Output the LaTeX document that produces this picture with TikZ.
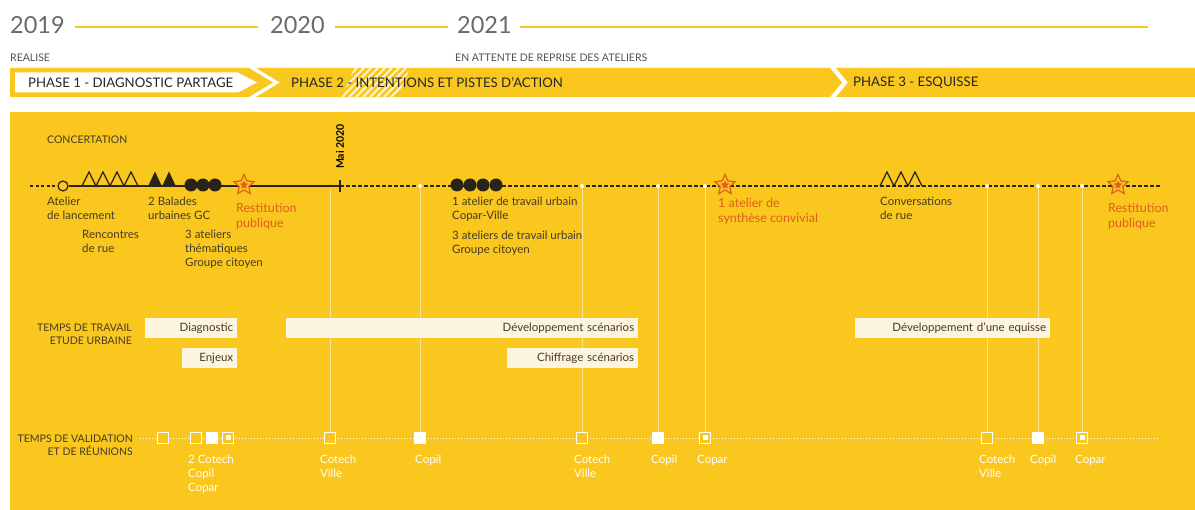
\documentclass[tikz,border=0pt]{standalone}
\usepackage{fontspec}
\setmainfont{Lato}
\usetikzlibrary{shapes.geometric}
\definecolor{gold}{RGB}{250,199,31}
\definecolor{cream}{RGB}{253,245,222}
\definecolor{rust}{RGB}{226,92,30}
\definecolor{ink}{RGB}{70,58,38}
\definecolor{greytxt}{RGB}{80,80,80}

\begin{document}
\begin{tikzpicture}[x=1pt, y=-1pt,
    every node/.style={font=\fontsize{11.5}{14}\selectfont, text=ink, inner sep=0pt},
    year/.style={font=\fontsize{23.5}{26}\selectfont, text=greytxt!85, anchor=west},
    yearline/.style={gold, line width=2.5pt},
    caption/.style={font=\fontsize{10.5}{12}\selectfont, text=greytxt, anchor=west},
    rowtitle/.style={font=\fontsize{10.5}{13}\selectfont, text=ink, align=right, anchor=east},
    phase/.style={font=\fontsize{13.2}{15}\selectfont, text=black!85, anchor=west},
    event/.style={align=left, anchor=north west},
    highlight/.style={event, text=rust, font=\fontsize{12.5}{15}\selectfont},
    bar/.style={fill=cream, minimum height=20pt, anchor=west, align=right, inner xsep=4pt},
    meeting/.style={event, text=white},
    guide/.style={white, opacity=0.5, line width=0.8pt},
    vopen/.style={draw=white, fill=gold, line width=1.2pt, minimum size=11pt},
    vfull/.style={fill=white, minimum size=12pt},
    vdot/.style={fill=white, minimum size=5pt},
    milestone/.style={star, star points=5, star point ratio=2.1, draw=rust, fill=gold, line width=1.2pt, minimum size=21pt},
    core/.style={star, star points=5, star point ratio=2.1, fill=rust, minimum size=9pt},
    plein/.style={circle, fill=ink!60!black, minimum size=13pt},
    tick/.style={ink!60!black, line width=1.3pt}
]
\useasboundingbox (0,0) rectangle (1195,510);

% annees
\node[year] (y2019) at (10,25) {2019};
\node[year] (y2020) at (270,25) {2020};
\node[year] (y2021) at (457,25) {2021};
\coordinate (yend) at (1148,27);
\draw[yearline] ([xshift=10pt,yshift=-2pt]y2019.east) -- ([xshift=-12pt,yshift=-2pt]y2020.west);
\draw[yearline] ([xshift=10pt,yshift=-2pt]y2020.east) -- ([xshift=-9pt,yshift=-2pt]y2021.west);
\draw[yearline] ([xshift=8pt,yshift=-2pt]y2021.east) -- (yend);

\node[caption] (realise) at (10,58) {REALISE};
\node[caption] (attente) at (455,58) {EN ATTENTE DE REPRISE DES ATELIERS};

% phases
\fill[gold] (10,68) -- (249,68) -- (273,82.5) -- (249,97) -- (10,97) -- cycle;
\fill[white] (15,72.5) -- (238,72.5) -- (257,82.5) -- (238,92.5) -- (15,92.5) -- cycle;
\fill[gold] (256,68) -- (830,68) -- (842,82.5) -- (830,97) -- (256,97) -- (280,82.5) -- cycle;
\fill[gold] (836,68) -- (1195,68) -- (1195,97) -- (836,97) -- (848,82.5) -- cycle;
\begin{scope}
  \clip (354,68) -- (410,68) -- (398,97) -- (342,97) -- cycle;
  \foreach \i in {0,...,13}
    \draw[white, opacity=0.8, line width=2pt] (300+\i*7,97) -- ++(29,-29);
\end{scope}
\node[phase] (ph1) at (28,83) {PHASE 1 - DIAGNOSTIC PARTAGE};
\node[phase] (ph2) at (291,83) {PHASE 2 - INTENTIONS ET PISTES D’ACTION};
\node[phase] (ph3) at (853,83) {PHASE 3 - ESQUISSE};

% fond
\fill[gold] (10,112) rectangle (1195,510);

% lignes verticales
\foreach \x [count=\i] in {420,582,658,705,987,1038,1082}
  \coordinate (t\i) at (\x,186);
\coordinate (t0) at (330,190);
\node[vopen] (q1) at (163,438) {};
\node[vopen] (q2) at (196,438) {};
\node[vfull] (q3) at (212,438) {};
\node[vopen] (q4) at (228,438) {};
\node[vopen] (q5) at (330,438) {};
\node[vfull] (q6) at (420,438) {};
\node[vopen] (q7) at (582,438) {};
\node[vfull] (q8) at (658,438) {};
\node[vopen] (q9) at (705,438) {};
\node[vopen] (q10) at (987,438) {};
\node[vfull] (q11) at (1038,438) {};
\node[vopen] (q12) at (1082,438) {};
\draw[guide] (t0) -- (q5.north);
\foreach \i/\q in {1/6,2/7,3/8,4/9,5/10,6/11,7/12}
  \draw[guide] (t\i) -- (q\q.north);

% concertation
\node[caption, text=ink] (concert) at (47,140) {CONCERTATION};
\coordinate (c0) at (30,186);
\node[circle, draw=ink!60!black, fill=gold, line width=1.2pt, minimum size=10pt] (lancement) at (63,186) {};
\coordinate (mai) at (340,186);
\coordinate (cfin) at (1160,186);
\draw[tick, dash pattern=on 3pt off 2.5pt] (c0) -- (lancement.west);
\draw[tick] (lancement.east) -- (mai);
\draw[tick, dash pattern=on 3.5pt off 2.5pt] (mai) -- (cfin);
\draw[tick] ([yshift=-6pt]mai) -- ([yshift=6pt]mai);
\node[rotate=90, anchor=west, font=\fontsize{10.5}{12}\selectfont\bfseries, text=black] (mailabel) at (340,169) {Mai 2020};
\foreach \i in {1,...,7}
  \fill[white] (t\i) circle (2pt);

\foreach \x in {82,96,110,124,880,894,908}
  \draw[ink!60!black, line width=1.3pt, line join=miter] (\x,186) -- ++(7,-14) -- ++(7,14);
\foreach \x in {148,162}
  \fill[ink!60!black] (\x,186.5) -- ++(7,-15) -- ++(7,15) -- cycle;
\foreach \x in {191,203,215,457,470,483,496}
  \node[plein] at (\x,185) {};

\node[milestone] (rest1) at (244,185) {};
\node[core] at (rest1) {};
\node[milestone] (synth) at (725,185) {};
\node[core] at (synth) {};
\node[milestone] (rest2) at (1118,185) {};
\node[core] at (rest2) {};

\node[event] (lab1) at (47,197) {Atelier\\de lancement};
\node[event] (lab2) at (82,230) {Rencontres\\de rue};
\node[event] (lab3) at (148,197) {2 Balades\\urbaines GC};
\node[event] (lab4) at (185,230) {3 ateliers\\thématiques\\Groupe citoyen};
\node[highlight] (lab5) at (236,203) {Restitution\\publique};
\node[event] (lab6) at (452,197) {1 atelier de travail urbain\\Copar-Ville};
\node[event] (lab7) at (452,231) {3 ateliers de travail urbain\\Groupe citoyen};
\node[highlight] (lab8) at (718,198) {1 atelier de\\synthèse convivial};
\node[event] (lab9) at (880,197) {Conversations\\de rue};
\node[highlight] (lab10) at (1108,203) {Restitution\\publique};

% etude urbaine
\node[rowtitle] (travail) at (132,334) {TEMPS DE TRAVAIL\\ETUDE URBAINE};
\node[bar, text width=84pt] (diag) at (145,328) {Diagnostic};
\node[bar, text width=47pt] (enjeux) at (182,358) {Enjeux};
\node[bar, text width=344pt] (devsc) at (286,328) {Développement scénarios};
\node[bar, text width=123pt] (chiff) at (507,358) {Chiffrage scénarios};
\node[bar, text width=187pt] (deveq) at (855,328) {Développement d’une equisse};

% validation
\node[rowtitle] (validation) at (133,445) {TEMPS DE VALIDATION\\ET DE RÉUNIONS};
\coordinate (v0) at (140,438);
\coordinate (vfin) at (1160,438);
\draw[white, line width=0.8pt, dash pattern=on 1.2pt off 1.8pt] (v0) -- (vfin);
\foreach \q in {1,...,12}
  \node[vopen] at (q\q) {};
\foreach \q in {3,6,8,11}
  \node[vfull] at (q\q) {};
\foreach \q in {4,9,12}
  \node[vdot] at (q\q) {};

\node[meeting] (m1) at (188,455) {2 Cotech\\Copil\\Copar};
\node[meeting] (m2) at (320,455) {Cotech\\Ville};
\node[meeting] (m3) at (415,455) {Copil};
\node[meeting] (m4) at (574,455) {Cotech\\Ville};
\node[meeting] (m5) at (651,455) {Copil};
\node[meeting] (m6) at (697,455) {Copar};
\node[meeting] (m7) at (979,455) {Cotech\\Ville};
\node[meeting] (m8) at (1030,455) {Copil};
\node[meeting] (m9) at (1075,455) {Copar};
\end{tikzpicture}
\end{document}
